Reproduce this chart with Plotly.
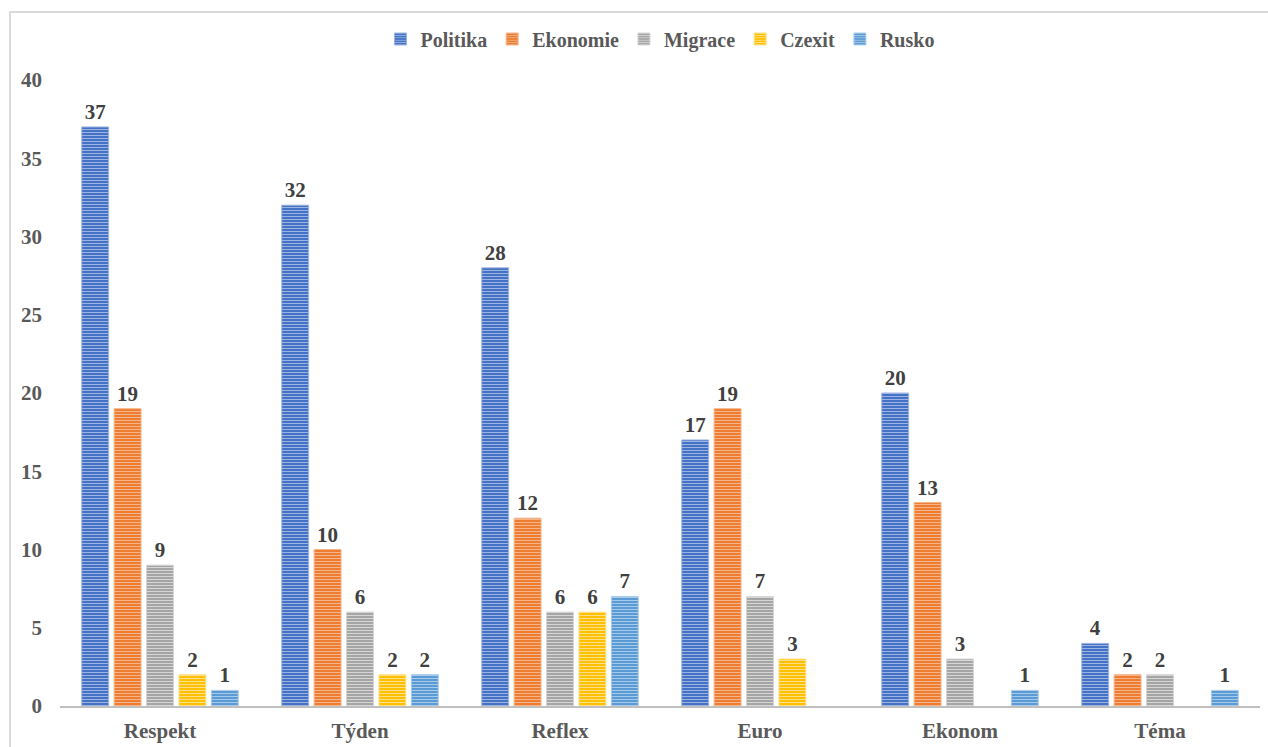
import plotly.graph_objects as go

categories = ["Respekt", "Týden", "Reflex", "Euro", "Ekonom", "Téma"]
series_names = ["Politika", "Ekonomie", "Migrace", "Czexit", "Rusko"]
politika = [37, 32, 28, 17, 20, 4]
ekonomie = [19, 10, 12, 19, 13, 2]
migrace = [9, 6, 6, 7, 3, 2]
czexit = [2, 2, 6, 3, None, None]
rusko = [1, 2, 7, None, 1, 1]
y_ticks = [0, 5, 10, 15, 20, 25, 30, 35, 40]

series_values = [politika, ekonomie, migrace, czexit, rusko]
colors = ["#4472C4", "#ED7D31", "#A5A5A5", "#FFC000", "#5B9BD5"]
light = ["#9DB4E2", "#F6B48A", "#D6D6D6", "#FFE08A", "#A9CBEA"]

FONT = "Liberation Serif, Times New Roman, serif"
fig = go.Figure()
for name, vals, c, lc in zip(series_names, series_values, colors, light):
    fig.add_trace(go.Bar(
        name=name, x=categories, y=vals,
        marker=dict(color=c, line=dict(color=lc, width=1),
                    pattern=dict(shape="-", fgcolor=lc, bgcolor=c, size=3, solidity=0.35, fillmode="replace")),
        text=[str(v) if v is not None else "" for v in vals],
        textposition="outside",
        textfont=dict(family=FONT, size=21, color="#404040", weight="bold"),
        cliponaxis=False,
    ))

H = 747
fig.update_layout(
    width=1268, height=H,
    margin=dict(l=60, r=8, t=80, b=41, autoexpand=False),
    paper_bgcolor="white", plot_bgcolor="white",
    font=dict(family=FONT, size=20, color="#595959", weight="bold"),
    barmode="group", bargap=0.19, bargroupgap=0.17,
    showlegend=True,
    legend=dict(orientation="h", x=0.5, xanchor="center", y=1 - 39 / H, yref="container", yanchor="middle",
                font=dict(family=FONT, size=20, color="#595959", weight="bold"), itemwidth=30,
                traceorder="normal"),
    xaxis=dict(showline=True, linecolor="#BFBFBF", linewidth=2, ticks="", showgrid=False,
               tickfont=dict(family=FONT, size=21, color="#595959", weight="bold"), ticklabelstandoff=5),
    yaxis=dict(range=[0, 40], tickvals=y_ticks, showgrid=False, zeroline=False, showline=False,
               tickfont=dict(family=FONT, size=21, color="#595959", weight="bold"), ticklabelstandoff=17),
    shapes=[dict(type="rect", xref="paper", yref="paper", x0=-50 / 1200, x1=1.2, y0=-0.2,
                 y1=1 + (80 - 12) / 626,
                 line=dict(color="#D9D9D9", width=2), fillcolor="rgba(0,0,0,0)", layer="below")],
)

fig.write_html("out.html")
